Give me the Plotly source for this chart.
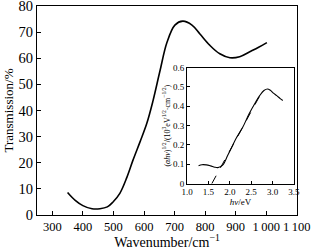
import plotly.graph_objects as go

# Main transmission spectrum
wavenumber = [350, 375, 400, 430, 456, 480, 498, 521, 544, 564, 587, 609, 629, 652, 675, 701, 727, 757, 783, 815, 848, 881, 913, 946, 975, 1002]
transmission = [8.6, 5.6, 3.6, 2.4, 2.4, 3.1, 4.9, 8.3, 14.4, 21, 28, 35, 43.5, 55, 66, 72.7, 74.2, 72.7, 69.3, 65, 61.7, 60.2, 60.6, 62.5, 64.2, 66]

# Inset: Tauc plot
hv = [1.27, 1.35, 1.45, 1.55, 1.65, 1.72, 1.78, 1.85, 1.95, 2.05, 2.15, 2.3, 2.45, 2.6, 2.7, 2.8, 2.88, 2.95, 3.02, 3.1, 3.18, 3.24]
tauc = [0.093, 0.098, 0.097, 0.092, 0.085, 0.083, 0.088, 0.10, 0.145, 0.19, 0.235, 0.29, 0.36, 0.42, 0.455, 0.482, 0.49, 0.483, 0.468, 0.455, 0.44, 0.43]
fit_hv = [1.58, 2.79]
fit_val = [0.0, 0.49]

x_ticks = [300, 400, 500, 600, 700, 800, 900, 1000, 1100]
x_ticktext = ["300", "400", "500", "600", "700", "800", "900", "1\u2009000", "1\u2009100"]
y_ticks = [0, 10, 20, 30, 40, 50, 60, 70, 80]
inset_x_ticks = [1.0, 1.5, 2.0, 2.5, 3.0, 3.5]
inset_y_ticks = [0, 0.1, 0.2, 0.3, 0.4, 0.5, 0.6]

font = "Liberation Serif"

fig = go.Figure()
fig.add_trace(go.Scatter(x=wavenumber, y=transmission, mode="lines",
                         line=dict(color="black", width=1.6, shape="spline", smoothing=1),
                         xaxis="x", yaxis="y", showlegend=False))
fig.add_trace(go.Scatter(x=hv, y=tauc, mode="lines",
                         line=dict(color="black", width=1.1, shape="spline"),
                         xaxis="x2", yaxis="y2", showlegend=False))
fig.add_trace(go.Scatter(x=fit_hv, y=fit_val, mode="lines",
                         line=dict(color="black", width=1, dash="dash"),
                         xaxis="x2", yaxis="y2", showlegend=False))

fig.update_layout(
    width=311, height=250,
    margin=dict(l=37, r=14, t=6, b=35, autoexpand=False),
    paper_bgcolor="white", plot_bgcolor="white",
    font=dict(family=font, color="black"),
    xaxis=dict(domain=[0, 1], range=[250, 1100.5], tickvals=x_ticks, ticktext=x_ticktext,
               ticks="inside", ticklen=4, tickcolor="black", showline=True, linecolor="black",
               linewidth=1, mirror=True, showgrid=False, zeroline=False, automargin=False,
               ticklabeloverflow="allow", tickangle=0,
               tickfont=dict(size=12.5, family=font),
               title=dict(text="Wavenumber/cm<sup>\u22121</sup>", font=dict(size=14, family=font), standoff=5)),
    yaxis=dict(domain=[0, 1], range=[0, 80], tickvals=y_ticks,
               ticks="inside", ticklen=4, tickcolor="black", showline=True, linecolor="black",
               linewidth=1, mirror=True, showgrid=False, zeroline=False, automargin=False,
               ticklabeloverflow="allow", tickangle=0,
               tickfont=dict(size=14.5, family=font),
               title=dict(text="Transmission/%", font=dict(size=13, family=font), standoff=2)),
    xaxis2=dict(domain=[0.577, 0.988], anchor="y2", range=[1.0, 3.5], tickvals=inset_x_ticks,
                ticktext=["1.0", "1.5", "2.0", "2.5", "3.0", "3.5"], tickangle=0,
                ticks="inside", ticklen=3, tickcolor="black", showline=True, linecolor="black",
                linewidth=1, mirror=True, showgrid=False, zeroline=False,
                tickfont=dict(size=9, family=font),
                title=dict(text="<i>hν</i>/eV", font=dict(size=9, family=font), standoff=1)),
    yaxis2=dict(domain=[0.15, 0.705], anchor="x2", range=[0, 0.6], tickvals=inset_y_ticks,
                ticktext=["0", "0.1", "0.2", "0.3", "0.4", "0.5", "0.6"], tickangle=0,
                ticks="inside", ticklen=3, tickcolor="black", showline=True, linecolor="black",
                linewidth=1, mirror=True, showgrid=False, zeroline=False,
                tickfont=dict(size=9, family=font),
                title=dict(text="(<i>αhν</i>)<sup>1/2</sup>/(10<sup>3</sup>eV<sup>1/2</sup>·cm<sup>\u22121/2</sup>)",
                           font=dict(size=8, family=font), standoff=1)),
)

fig.write_html("out.html")
